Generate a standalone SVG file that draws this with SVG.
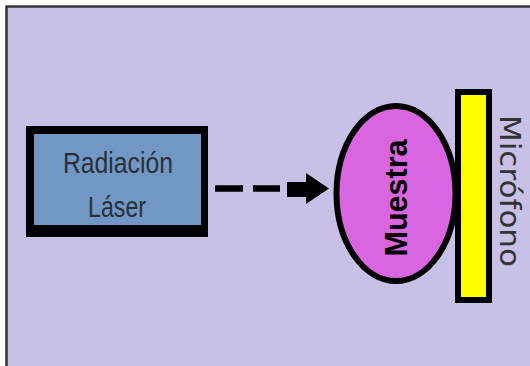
<svg xmlns="http://www.w3.org/2000/svg" width="530" height="366" viewBox="0 0 530 366">
  <style>
    .label { font-family: "Liberation Sans", Arial, sans-serif; fill: #2b2f3a; }
    .bold { font-family: "Liberation Sans", Arial, sans-serif; font-weight: bold; fill: #000; }
    .wide { font-family: "DejaVu Sans", Verdana, sans-serif; fill: #333; }
  </style>

  <!-- page and panel -->
  <rect x="0" y="0" width="530" height="366" fill="#ffffff"/>
  <rect id="panel" x="6.5" y="6.5" width="600" height="400" fill="#c8c0e6" stroke="#333" stroke-width="2.5"/>

  <!-- laser source -->
  <g id="laser">
    <rect x="26" y="126" width="182" height="111" fill="#000"/>
    <rect x="34" y="134" width="167" height="91" fill="#7197c5"/>
    <text class="label" x="118" y="173" font-size="30" text-anchor="middle" textLength="110" lengthAdjust="spacingAndGlyphs">Radiación</text>
    <text class="label" x="117" y="217" font-size="30" text-anchor="middle" textLength="58" lengthAdjust="spacingAndGlyphs">Láser</text>
  </g>

  <!-- beam from laser to sample -->
  <g id="connectors">
    <line x1="215" y1="188.5" x2="280" y2="188.5" stroke="#000" stroke-width="6.5" stroke-dasharray="28 10"/>
    <polygon points="287,182 306,182 306,173 329,188.5 306,204 306,197 287,197" fill="#000"/>
  </g>

  <!-- sample -->
  <g id="muestra">
    <ellipse cx="396" cy="193.5" rx="59.5" ry="87.5" fill="#d966e0" stroke="#000" stroke-width="6"/>
    <text class="bold" transform="translate(407,198) rotate(-90)" x="0" y="0" font-size="31" text-anchor="middle" textLength="117" lengthAdjust="spacingAndGlyphs">Muestra</text>
  </g>

  <!-- microphone -->
  <g id="microfono">
    <rect x="458" y="92" width="31" height="208" fill="#ffff00" stroke="#000" stroke-width="6"/>
    <text class="wide" transform="translate(500,191) rotate(90)" x="0" y="0" font-size="28" text-anchor="middle" textLength="152" lengthAdjust="spacingAndGlyphs">Micrófono</text>
  </g>
</svg>
